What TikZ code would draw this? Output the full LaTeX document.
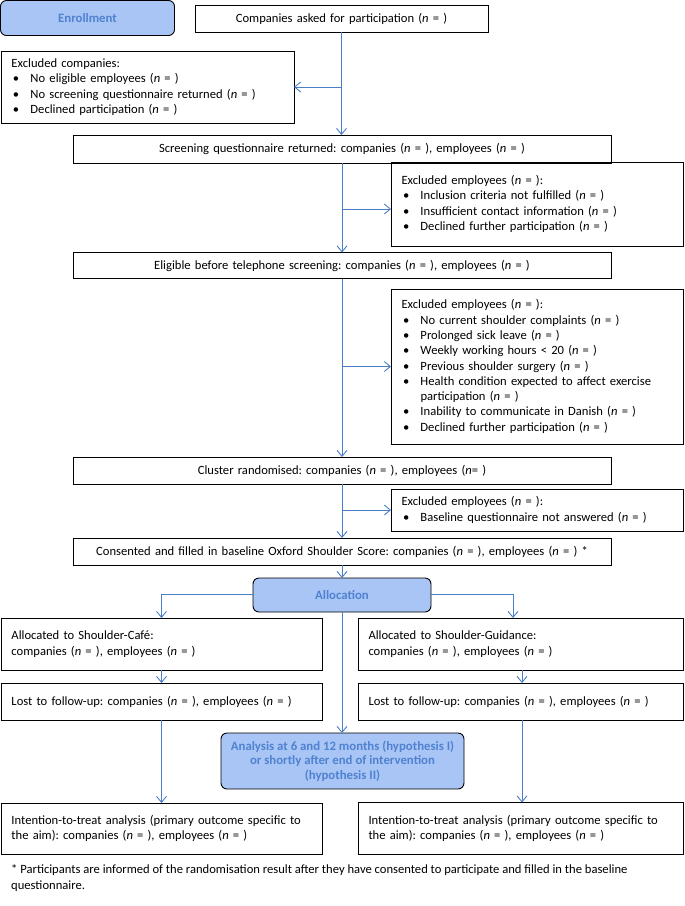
\documentclass[tikz,border=0pt]{standalone}
\usepackage{fontspec}
\setmainfont{Carlito}
\frenchspacing
\usetikzlibrary{arrows.meta}
\definecolor{lineblue}{HTML}{4A7EC8}
\definecolor{boxfill}{HTML}{A9C5F5}
\definecolor{titleblue}{HTML}{4F82D0}
\newcommand{\myitem}[1]{\makebox[19pt][l]{\hspace{1.5pt}\textbullet}#1}
\newcommand{\nn}{(\textit{n} = )}
\begin{document}
\begin{tikzpicture}[x=1pt,y=-1pt,
  box/.style={draw=black, line width=0.9pt, inner xsep=10.5pt, inner ysep=0pt, outer sep=0pt,
    anchor=north west, font=\fontsize{12.6}{15.3}\selectfont},
  cbox/.style={box, align=center},
  lbox/.style={box, align=left},
  rbox/.style={draw=black, line width=0.9pt, rounded corners=6pt, fill=boxfill, anchor=north west,
    inner sep=0pt, outer sep=0pt, align=center, text=titleblue,
    font=\fontsize{12.8}{14.6}\selectfont\bfseries},
  conn/.style={draw=lineblue, line width=0.9pt, -{Straight Barb[length=6pt,width=10pt]}}]
\useasboundingbox (0,0) rectangle (685,906);

\node[rbox, minimum width=174pt, minimum height=35pt] (enroll) at (0.5,0.5) {Enrollment};
\node[cbox, text width=272pt, minimum height=27pt] (comp) at (195,5) {Companies asked for participation \nn};
\node[lbox, text width=272pt, minimum height=72pt] (exco) at (1,51)
  {Excluded companies:\\ \myitem{No eligible employees \nn}\\ \myitem{No screening questionnaire returned \nn}\\ \myitem{Declined participation \nn}};
\node[cbox, text width=517pt, minimum height=28pt] (scr) at (73,135)
  {Screening questionnaire returned: companies \nn, employees \nn};
\node[lbox, text width=271pt, minimum height=84pt] (exe1) at (391,162)
  {Excluded employees \nn:\\ \myitem{Inclusion criteria not fulfilled \nn}\\ \myitem{Insufficient contact information \nn}\\ \myitem{Declined further participation \nn}};
\node[cbox, text width=517pt, minimum height=26pt] (elig) at (73,252.5)
  {Eligible before telephone screening: companies \nn, employees \nn};
\node[lbox, text width=271pt, minimum height=155pt] (exe2) at (391,289)
  {Excluded employees \nn:\\ \myitem{No current shoulder complaints \nn}\\ \myitem{Prolonged sick leave \nn}\\
   \myitem{Weekly working hours < 20 \nn}\\ \myitem{Previous shoulder surgery \nn}\\
   \myitem{Health condition expected to affect exercise}\\ \hspace*{19pt}participation \nn\\
   \myitem{Inability to communicate in Danish \nn}\\ \myitem{Declined further participation \nn}};
\node[cbox, text width=517pt, minimum height=27pt] (clus) at (73,457)
  {Cluster randomised: companies \nn, employees (\textit{n}= )};
\node[lbox, text width=271pt, minimum height=42pt] (exe3) at (391,489)
  {Excluded employees \nn:\\ \myitem{Baseline questionnaire not answered \nn}};
\node[cbox, text width=517pt, minimum height=27pt] (cons) at (73,538)
  {Consented and filled in baseline Oxford Shoulder Score: companies \nn, employees \nn{} *};
\node[rbox, minimum width=178pt, minimum height=34pt] (alloc) at (253,578) {Allocation};
\node[lbox, text width=300pt, minimum height=52pt] (cafe) at (1,618)
  {Allocated to Shoulder-Café:\\ companies \nn, employees \nn};
\node[lbox, text width=304pt, minimum height=52pt] (guid) at (358,618)
  {Allocated to Shoulder-Guidance:\\ companies \nn, employees \nn};
\node[lbox, text width=300pt, minimum height=37pt] (lostc) at (1,683)
  {Lost to follow-up: companies \nn, employees \nn};
\node[lbox, text width=304pt, minimum height=37pt] (lostg) at (358,683)
  {Lost to follow-up: companies \nn, employees \nn};
\node[rbox, minimum width=243pt, minimum height=56pt] (anal) at (221,733)
  {Analysis at 6 and 12 months (hypothesis I)\\ or shortly after end of intervention\\ (hypothesis II)};
\node[lbox, text width=300pt, minimum height=51pt] (ittc) at (1,803)
  {Intention-to-treat analysis (primary outcome specific to\\ the aim): companies \nn, employees \nn};
\node[lbox, text width=304pt, minimum height=52pt] (ittg) at (358,802.5)
  {Intention-to-treat analysis (primary outcome specific to\\ the aim): companies \nn, employees \nn};
\node[anchor=base west, inner sep=0pt, align=left, font=\fontsize{12.6}{16}\selectfont] (foot) at (11,889)
  {* Participants are informed of the randomisation result after they have consented to participate and filled in the baseline\\ questionnaire.};

% connectors
\draw[conn] (comp.south) -- (comp.south |- scr.north);
\draw[conn] (comp.south |- exco.east) -- (exco.east);
\draw[conn] (scr.south) -- (scr.south |- elig.north);
\draw[conn] ([yshift=-5pt]scr.south |- exe1.west) -- ([yshift=-5pt]exe1.west);
\draw[conn] (elig.south) -- (elig.south |- clus.north);
\draw[conn] (elig.south |- exe2.west) -- (exe2.west);
\draw[conn] (clus.south) -- (clus.south |- cons.north);
\draw[conn] (clus.south |- exe3.west) -- (exe3.west);
\draw[conn] (cons.south) -- (cons.south |- alloc.north);
\draw[conn] ([yshift=1pt]alloc.west) -| (cafe.north);
\coordinate (gtop) at ([xshift=-7.5pt]guid.north);
\draw[conn] ([yshift=1pt]alloc.east) -| (gtop);
\draw[conn] (alloc.south) -- (alloc.south |- anal.north);
\draw[conn] (cafe.south) -- (lostc.north);
\draw[conn] ([xshift=1.5pt]guid.south) -- ([xshift=1.5pt]lostg.north);
\draw[conn] (lostc.south) -- (ittc.north);
\draw[conn] ([xshift=1.5pt]lostg.south) -- ([xshift=1.5pt]ittg.north);
\end{tikzpicture}
\end{document}
